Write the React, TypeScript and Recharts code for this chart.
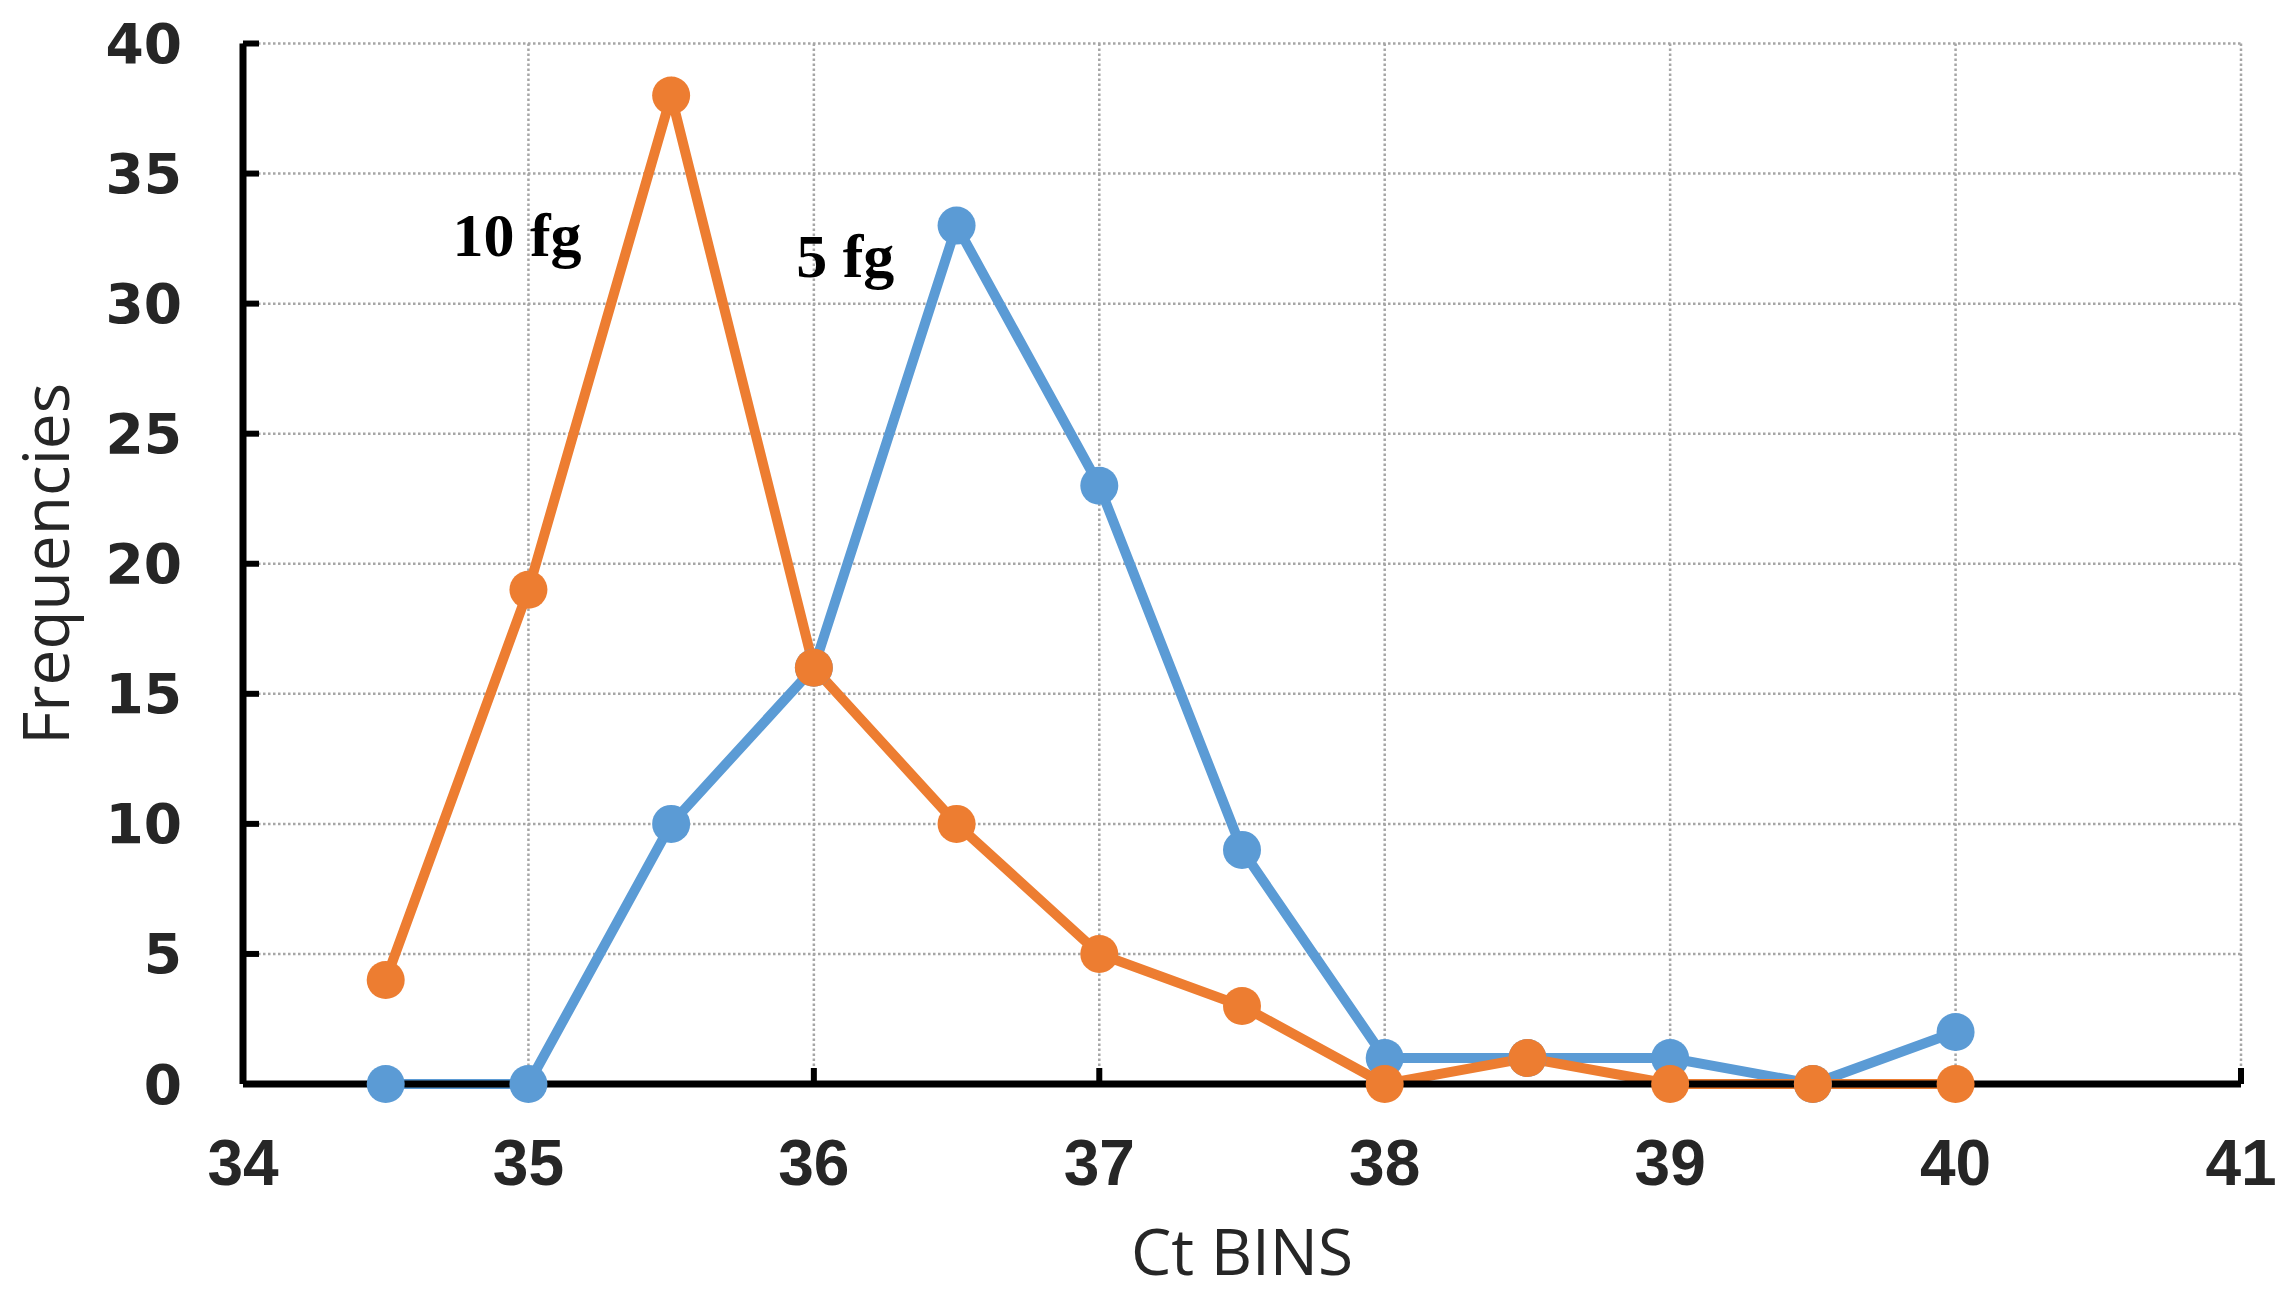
import React from 'react';
import { LineChart, Line, XAxis, YAxis, CartesianGrid, ReferenceDot, Label } from 'recharts';

const ctBins = [34.5, 35, 35.5, 36, 36.5, 37, 37.5, 38, 38.5, 39, 39.5, 40];
const fg5 = [0, 0, 10, 16, 33, 23, 9, 1, 1, 1, 0, 2];
const fg10 = [4, 19, 38, 16, 10, 5, 3, 0, 1, 0, 0, 0];
const xTicks = [34, 35, 36, 37, 38, 39, 40, 41];
const yTicks = [0, 5, 10, 15, 20, 25, 30, 35, 40];
const annotations = [
  { x: 34.96, y: 31.83, text: '10 fg' },
  { x: 36.11, y: 31.03, text: '5 fg' },
];

const data = ctBins.map((x, i) => ({ x, fg5: fg5[i], fg10: fg10[i] }));

const BLUE = '#5B9BD5';
const ORANGE = '#ED7D31';

export default function App() {
  return (
    <div style={{ position: 'absolute', left: 0, top: 0, background: '#fff' }}>
      <LineChart
        width={2282}
        height={1299}
        data={data}
        margin={{ top: 43.5, right: 41, bottom: 0, left: 0 }}
      >
        <CartesianGrid stroke="#a6a6a6" strokeWidth={2.5} strokeDasharray="2.5 2.5" />
        <XAxis
          dataKey="x"
          type="number"
          domain={[34, 41]}
          ticks={xTicks}
          height={215}
          axisLine={{ stroke: '#000', strokeWidth: 7 }}
          tickLine={{ stroke: '#000', strokeWidth: 6 }}
          tickSize={-16}
          tickMargin={72}
          tick={{ fontFamily: 'Liberation Sans, Arial, sans-serif', fontWeight: 'bold', fontSize: 64, fill: '#262626' }}
        >
          <Label
            value="Ct BINS"
            position="insideBottom"
            offset={24}
            style={{ fontFamily: 'Open Sans, sans-serif', fontSize: 64, fill: '#262626' }}
          />
        </XAxis>
        <YAxis
          type="number"
          domain={[0, 40]}
          ticks={yTicks}
          width={243}
          axisLine={{ stroke: '#000', strokeWidth: 7 }}
          tickLine={{ stroke: '#000', strokeWidth: 6 }}
          tickSize={-16}
          tickMargin={77}
          tick={{ fontFamily: 'DejaVu Sans, sans-serif', fontWeight: 'bold', fontSize: 55, fill: '#262626' }}
        >
          <Label
            value="Frequencies"
            angle={-90}
            position="insideLeft"
            offset={46}
            style={{ fontFamily: 'Open Sans, sans-serif', fontSize: 64, fill: '#262626', textAnchor: 'middle' }}
          />
        </YAxis>
        <Line
          dataKey="fg5"
          stroke={BLUE}
          strokeWidth={10}
          dot={{ r: 19, fill: BLUE, stroke: 'none' }}
          activeDot={false}
          isAnimationActive={false}
        />
        <Line
          dataKey="fg10"
          stroke={ORANGE}
          strokeWidth={10}
          dot={{ r: 19, fill: ORANGE, stroke: 'none' }}
          activeDot={false}
          isAnimationActive={false}
        />
        {annotations.map((a) => (
          <ReferenceDot
            key={a.text}
            x={a.x}
            y={a.y}
            r={0}
            shape={(p: any) => (
              <text
                x={p.cx}
                y={p.cy}
                textAnchor="middle"
                fontFamily="Liberation Serif, Times New Roman, serif"
                fontWeight="bold"
                fontSize={62}
                fill="#000"
              >
                {a.text}
              </text>
            )}
          />
        ))}
      </LineChart>
    </div>
  );
}
